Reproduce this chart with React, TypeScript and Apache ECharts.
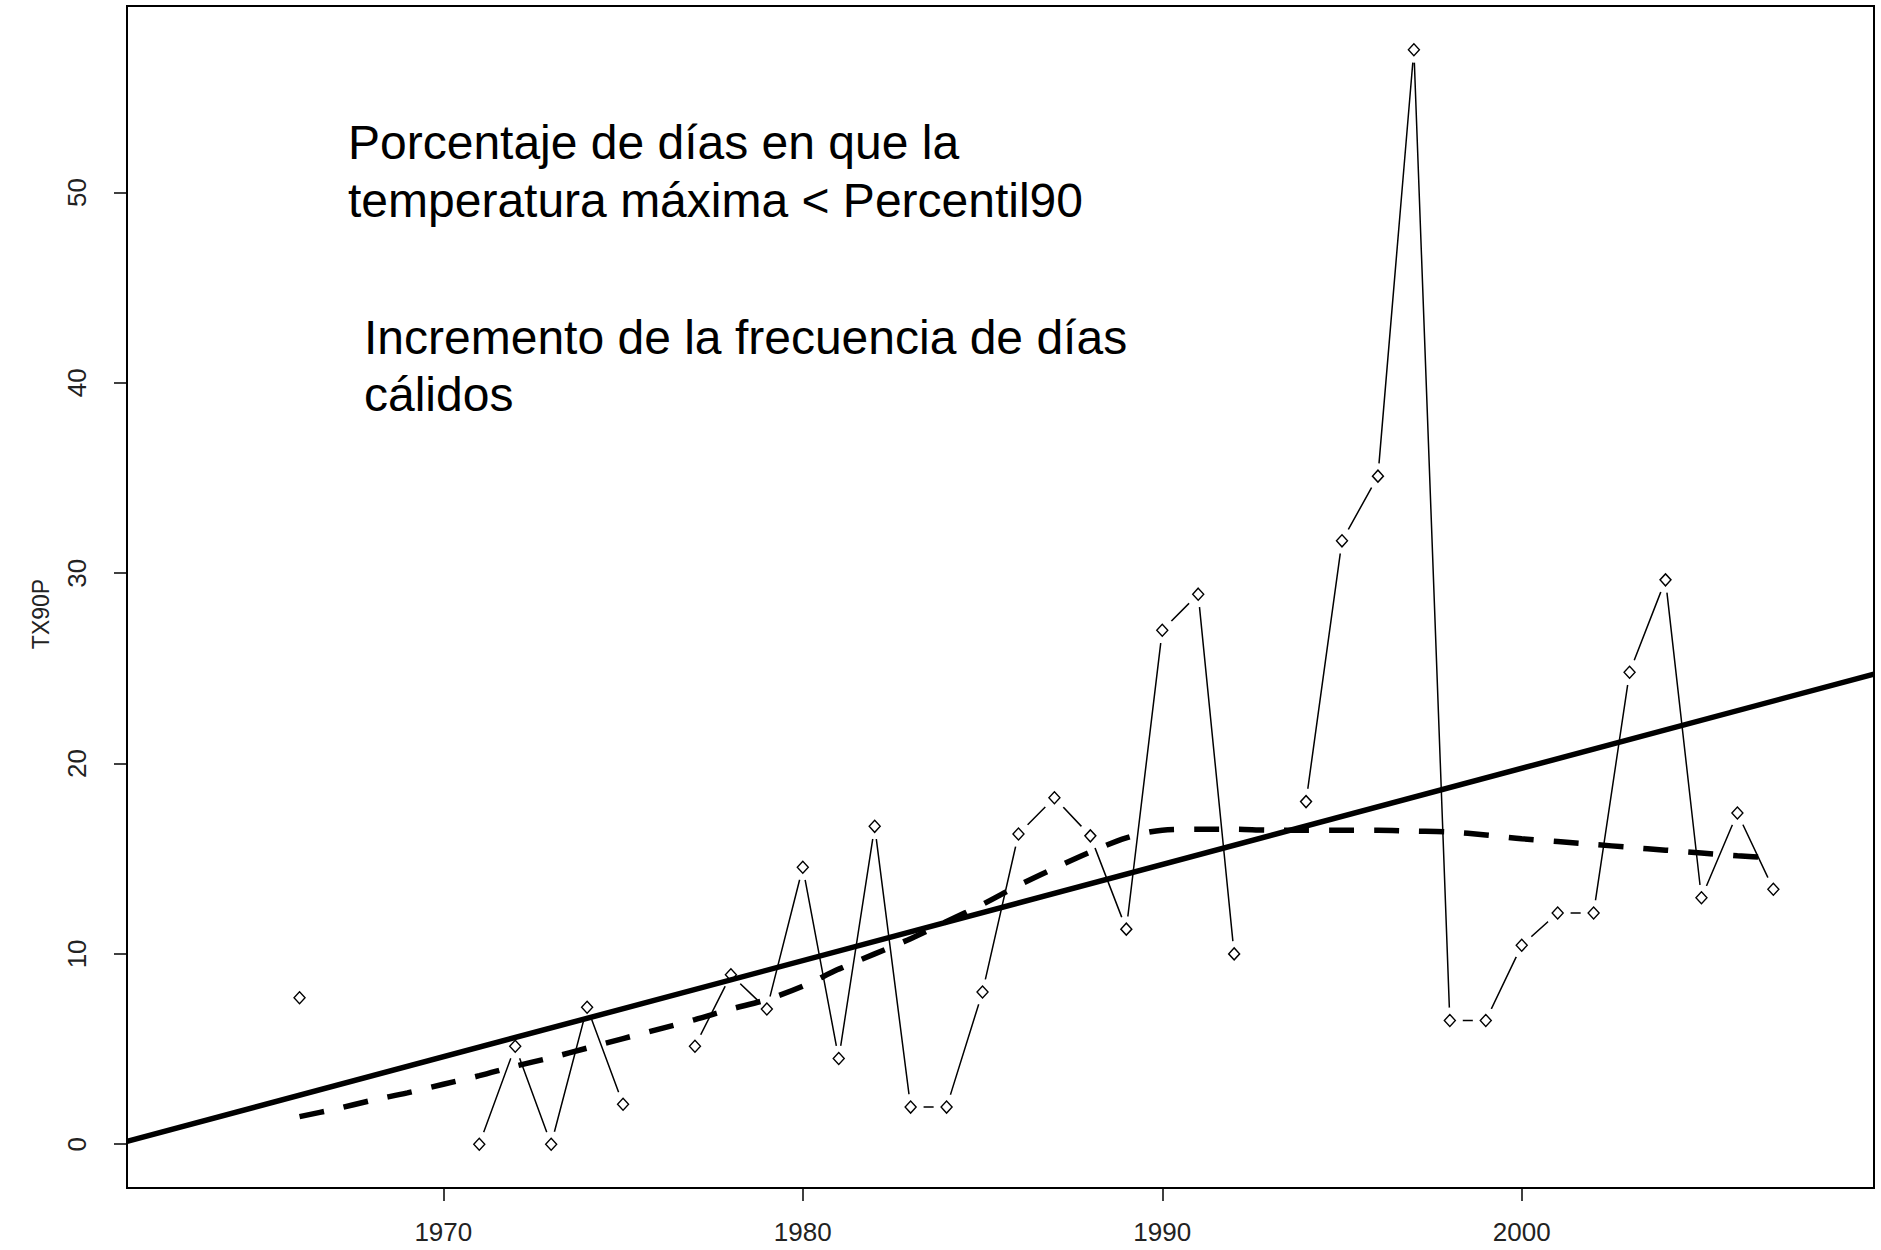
import React, { useEffect, useRef } from "react";
import * as echarts from "echarts";

// TX90P yearly index (percentage of warm days), missing years as null
const years = [
  1966, 1967, 1968, 1969, 1970, 1971, 1972, 1973, 1974, 1975, 1976, 1977, 1978, 1979,
  1980, 1981, 1982, 1983, 1984, 1985, 1986, 1987, 1988, 1989, 1990, 1991, 1992, 1993,
  1994, 1995, 1996, 1997, 1998, 1999, 2000, 2001, 2002, 2003, 2004, 2005, 2006, 2007,
];
const tx90p: (number | null)[] = [
  7.7, null, null, null, null, 0, 5.15, 0, 7.2, 2.1, null, 5.15, 8.9, 7.1,
  14.55, 4.5, 16.7, 1.95, 1.95, 8.0, 16.3, 18.2, 16.2, 11.3, 27.0, 28.9, 10.0, null,
  18.0, 31.7, 35.1, 57.5, 6.5, 6.5, 10.45, 12.15, 12.15, 24.8, 29.65, 12.95, 17.4, 13.4,
];

// Smoothed (loess) curve read along the years
const loessYears = [
  1966, 1967, 1968, 1969, 1970, 1971, 1972, 1973, 1974, 1975, 1976, 1977, 1978, 1979,
  1980, 1981, 1982, 1983, 1984, 1985, 1986, 1987, 1988, 1989, 1990, 1991, 1992, 1993,
  1994, 1995, 1996, 1997, 1998, 1999, 2000, 2001, 2002, 2003, 2004, 2005, 2006, 2007,
];
const loessValues = [
  1.45, 1.85, 2.3, 2.7, 3.15, 3.6, 4.1, 4.55, 5.05, 5.55, 6.05, 6.55, 7.1, 7.6,
  8.3, 9.2, 10.0, 10.8, 11.7, 12.6, 13.6, 14.5, 15.35, 16.1, 16.5, 16.55, 16.55, 16.5,
  16.5, 16.5, 16.5, 16.45, 16.4, 16.25, 16.05, 15.9, 15.75, 15.6, 15.45, 15.3, 15.15, 15.05,
];

// Linear trend, drawn across the full x range
const trendYears = [1961.2, 2009.8];
const trendValues = [0.15, 24.7];

// Axis limits and ticks
const xRange = [1961.2, 2009.8];
const yRange = [-2.3, 59.8];
const xTicks = [1970, 1980, 1990, 2000];
const yTicks = [0, 10, 20, 30, 40, 50];

const notes = [
  "Porcentaje de días en que la",
  "temperatura máxima < Percentil90",
  "Incremento de la frecuencia de días",
  "cálidos",
];

export default function App() {
  const ref = useRef<HTMLDivElement>(null);

  useEffect(() => {
    document.body.style.margin = "0";
    const chart = echarts.init(ref.current!, null, { renderer: "svg" });

    const lineData = years.map((y, i) => [y, tx90p[i] === null ? "-" : tx90p[i]]);
    const pointData = years
      .map((y, i) => [y, tx90p[i]])
      .filter((p) => p[1] !== null);
    const loessData = loessYears.map((y, i) => [y, loessValues[i]]);
    const trendData = trendYears.map((y, i) => [y, trendValues[i]]);

    const tickFont = "'Liberation Sans', Arial, sans-serif";
    const noteFont = "'Liberation Sans', Arial, sans-serif";
    const plain = (v: number) => String(v);

    const option: any = {
      animation: false,
      backgroundColor: "#ffffff",
      grid: {
        left: 127,
        right: 7,
        top: 6,
        bottom: 62,
        show: true,
        borderColor: "#000",
        borderWidth: 2,
        containLabel: false,
        outerBoundsMode: "none",
      },
      xAxis: {
        type: "value",
        min: xRange[0],
        max: xRange[1],
        axisLine: { show: false, onZero: false },
        splitLine: { show: false },
        axisTick: {
          show: true,
          inside: false,
          length: 13,
          customValues: xTicks,
          lineStyle: { color: "#000", width: 1.5 },
        },
        axisLabel: {
          customValues: xTicks,
          formatter: plain,
          margin: 31,
          fontSize: 26,
          fontFamily: tickFont,
          color: "#222",
        },
      },
      yAxis: {
        type: "value",
        min: yRange[0],
        max: yRange[1],
        name: "TX90P",
        nameLocation: "middle",
        nameGap: 75,
        nameRotate: 90,
        nameTextStyle: {
          fontSize: 23,
          fontFamily: tickFont,
          color: "#222",
          padding: [0, 34, 0, 0],
        },
        axisLine: { show: false, onZero: false },
        splitLine: { show: false },
        axisTick: {
          show: true,
          inside: false,
          length: 13,
          customValues: yTicks,
          lineStyle: { color: "#000", width: 1.5 },
        },
        axisLabel: {
          customValues: yTicks,
          formatter: plain,
          rotate: 90,
          margin: 37,
          fontSize: 26,
          fontFamily: tickFont,
          color: "#222",
        },
      },
      series: [
        {
          name: "TX90P",
          type: "line",
          z: 1,
          data: lineData,
          connectNulls: false,
          showSymbol: false,
          symbol: "none",
          lineStyle: { color: "#000", width: 1.5 },
          silent: true,
        },
        {
          // white halos leave a gap in the line around each point
          name: "gap",
          type: "scatter",
          z: 3,
          data: pointData,
          symbol: "circle",
          symbolSize: 26,
          itemStyle: { color: "#fff", borderWidth: 0, opacity: 1 },
          silent: true,
        },
        {
          name: "points",
          type: "scatter",
          z: 4,
          data: pointData,
          symbol: "diamond",
          symbolSize: [11, 12],
          itemStyle: { color: "#fff", borderColor: "#000", borderWidth: 1.4, opacity: 1 },
          silent: true,
        },
        {
          name: "trend",
          type: "line",
          z: 5,
          data: trendData,
          symbol: "none",
          lineStyle: { color: "#000", width: 5.5 },
          silent: true,
        },
        {
          name: "loess",
          type: "line",
          z: 6,
          data: loessData,
          symbol: "none",
          smooth: 0.3,
          lineStyle: { color: "#000", width: 5.5, type: [25, 20], cap: "butt" },
          silent: true,
        },
      ],
      graphic: [
        { type: "text", x: 348, y: 142.5, style: { text: notes[0], fontSize: 48, fontFamily: noteFont, fill: "#000", verticalAlign: "middle" } },
        { type: "text", x: 348, y: 200, style: { text: notes[1], fontSize: 48, fontFamily: noteFont, fill: "#000", verticalAlign: "middle" } },
        { type: "text", x: 364, y: 337, style: { text: notes[2], fontSize: 48, fontFamily: noteFont, fill: "#000", verticalAlign: "middle" } },
        { type: "text", x: 364, y: 394.5, style: { text: notes[3], fontSize: 48, fontFamily: noteFont, fill: "#000", verticalAlign: "middle" } },
      ],
    };

    chart.setOption(option);
    return () => chart.dispose();
  }, []);

  return <div ref={ref} style={{ width: 1881, height: 1250, background: "#fff" }} />;
}
